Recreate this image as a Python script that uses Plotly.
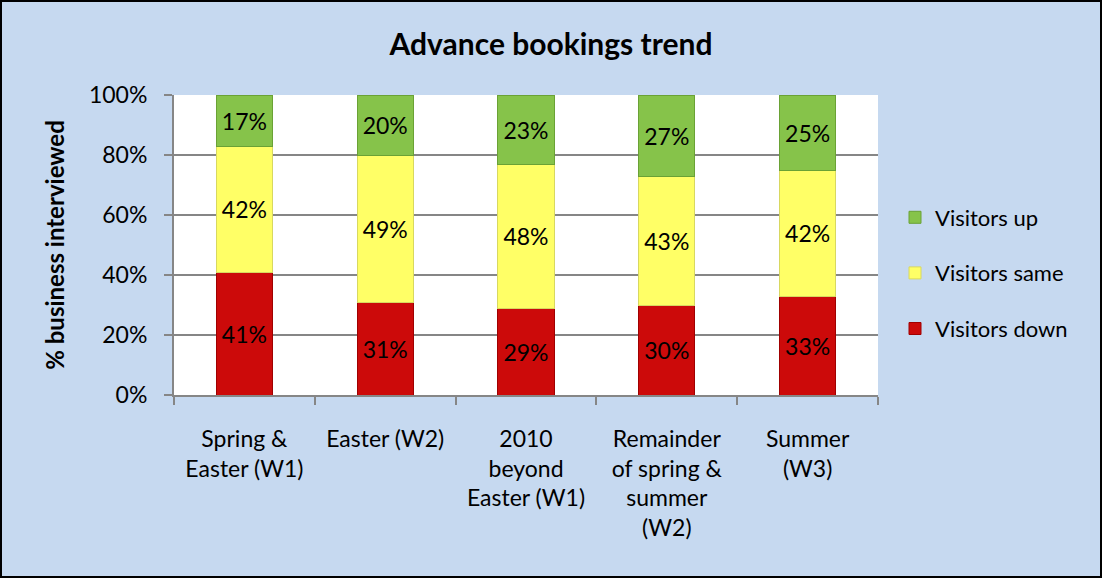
import plotly.graph_objects as go

categories = ["Spring &<br>Easter (W1)", "Easter (W2)", "2010<br>beyond<br>Easter (W1)",
              "Remainder<br>of spring &<br>summer<br>(W2)", "Summer<br>(W3)"]
visitors_down = [41, 31, 29, 30, 33]
visitors_same = [42, 49, 48, 43, 42]
visitors_up = [17, 20, 23, 27, 25]
y_ticks = [0, 20, 40, 60, 80, 100]
y_tick_labels = ["0%", "20%", "40%", "60%", "80%", "100%"]

FONT = "Lato"
series = [
    ("Visitors down", visitors_down, "#cc0a0a", "#a00000", 3),
    ("Visitors same", visitors_same, "#ffff66", "#d8d860", 2),
    ("Visitors up", visitors_up, "#86c34a", "#6aa235", 1),
]

fig = go.Figure()
for name, vals, col, line, rank in series:
    fig.add_trace(go.Bar(
        x=categories, y=vals, name=name,
        marker=dict(color=col, line=dict(color=line, width=1)),
        text=[f"{v}%" for v in vals], textposition="inside",
        insidetextanchor="middle",
        textfont=dict(family=FONT, size=23, color="black"),
        legendgroup=name, legendrank=rank,
        hoverinfo="skip",
    ))

W, H = 1102, 578
L, R, T, B = 174, 224, 95, 183
pw, ph = W - L - R, H - T - B

fig.update_layout(
    width=W, height=H,
    barmode="stack", bargap=0.6,
    paper_bgcolor="#c6d9f0", plot_bgcolor="white",
    margin=dict(l=L, r=R, t=T, b=B, autoexpand=False),
    font=dict(family=FONT, size=23, color="black"),
    title=dict(text="<b>Advance bookings trend</b>", x=0.5, xanchor="center",
               y=1 - 44 / H, yanchor="middle", yref="container",
               font=dict(family=FONT, size=30)),
    legend=dict(x=(895 - L) / pw, xanchor="left", y=(395 - 273) / ph, yanchor="middle",
                traceorder="grouped", tracegroupgap=24,
                font=dict(family=FONT, size=22), bgcolor="rgba(0,0,0,0)"),
    uniformtext=dict(minsize=10, mode="show"),
    xaxis=dict(showline=True, linecolor="#868686", linewidth=2,
               ticks="outside", tickson="boundaries", ticklen=8, tickcolor="#868686",
               tickwidth=2, tickfont=dict(size=23), showgrid=False,
               ticklabelstandoff=22),
    yaxis=dict(range=[0, 100], tickvals=y_ticks, ticktext=y_tick_labels,
               showline=True, linecolor="#868686", linewidth=2,
               ticks="outside", ticklen=8, tickcolor="#868686", tickwidth=2,
               showgrid=True, gridcolor="#868686", gridwidth=1.5,
               tickfont=dict(size=23), ticklabelstandoff=12,
               title=dict(text="<b>% business interviewed</b>", standoff=18,
                          font=dict(size=24)),
               zeroline=False),
    shapes=[dict(type="rect", xref="paper", yref="paper",
                 x0=(-L + 1) / pw, x1=(W - L - 1) / pw,
                 y0=(-B + 1) / ph, y1=(H - B - 1) / ph,
                 line=dict(color="black", width=2), fillcolor="rgba(0,0,0,0)",
                 layer="below")],
)

fig.write_html("out.html", config={"displayModeBar": False},
               post_script="document.body.style.margin='0';document.body.style.overflow='hidden';")
